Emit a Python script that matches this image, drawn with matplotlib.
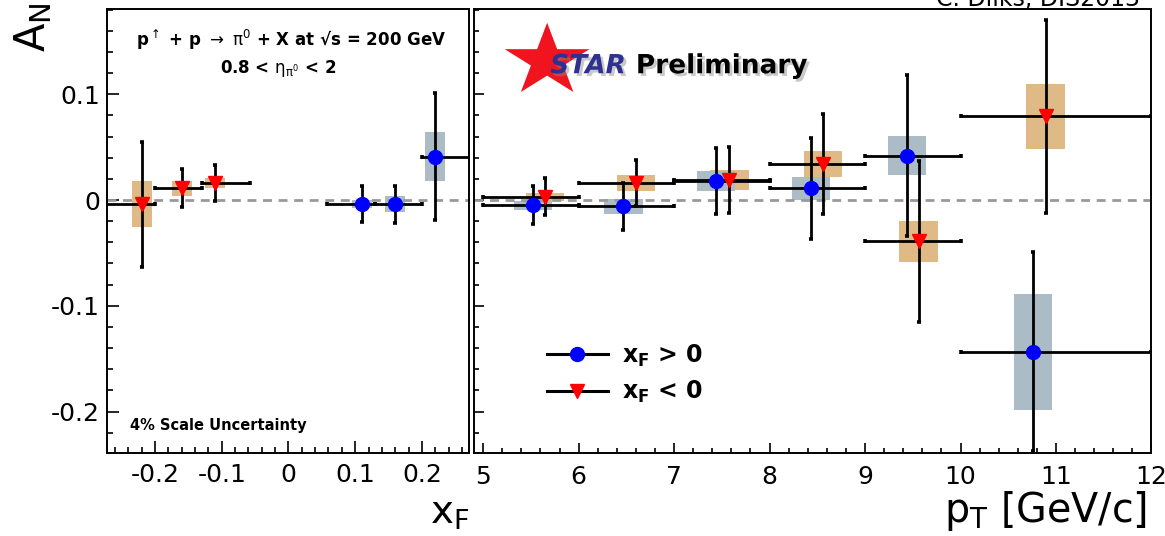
import numpy as np
import matplotlib
matplotlib.use("Agg")
import matplotlib.pyplot as plt
import matplotlib.patheffects as pe
from matplotlib.lines import Line2D
from matplotlib.patches import Polygon
from matplotlib.ticker import MultipleLocator, FuncFormatter

plt.rcParams['font.family'] = ['DejaVu Sans']
plt.rcParams['mathtext.fontset'] = 'dejavusans'
plt.rcParams['axes.unicode_minus'] = False

# A_N vs x_F  (x_F > 0 and x_F < 0)
xf_pos = [0.11, 0.16, 0.22]
xf_pos_lo = [0.058, 0.13, 0.20]
xf_pos_hi = [0.13, 0.20, 0.30]
an_xf_pos = [-0.004, -0.004, 0.041]
stat_xf_pos = [0.017, 0.0175, 0.060]
sys_xf_pos = [0.004, 0.0076, 0.0235]

xf_neg = [-0.22, -0.16, -0.11]
xf_neg_lo = [-0.30, -0.20, -0.13]
xf_neg_hi = [-0.20, -0.13, -0.058]
an_xf_neg = [-0.004, 0.011, 0.016]
stat_xf_neg = [0.059, 0.018, 0.017]
sys_xf_neg = [0.0216, 0.007, 0.0047]

# A_N vs pT
pt_edges = [5, 6, 7, 8, 9, 10, 12]
pt_pos = [5.52, 6.47, 7.44, 8.43, 9.44, 10.76]
an_pt_pos = [-0.005, -0.006, 0.018, 0.011, 0.042, -0.1435]
stat_pt_pos = [0.018, 0.022, 0.031, 0.048, 0.076, 0.094]
sys_pt_pos = [0.004, 0.0074, 0.0093, 0.0112, 0.0184, 0.055]

pt_neg = [5.65, 6.60, 7.58, 8.56, 9.56, 10.89]
an_pt_neg = [0.003, 0.016, 0.019, 0.034, -0.039, 0.079]
stat_pt_neg = [0.0175, 0.022, 0.031, 0.047, 0.076, 0.0915]
sys_pt_neg = [0.0035, 0.0073, 0.0093, 0.0126, 0.0196, 0.031]

col_pos = '#0000ff'
col_neg = '#ff0000'
box_pos = '#abbcc6'
box_neg = '#dfba87'

fig = plt.figure(figsize=(11.65, 5.36), dpi=100)
ax1 = fig.add_axes([0.0918, 0.1543, 0.3110, 0.8283])
ax2 = fig.add_axes([0.4065, 0.1543, 0.5819, 0.8283])


def draw_set(ax, x, lo, hi, an, stat, sys, boxw, marker, mcol, bcol, ms):
    x = np.array(x)
    an = np.array(an)
    sys = np.array(sys)
    ax.bar(x, 2 * sys, bottom=an - sys, width=boxw, color=bcol, zorder=1)
    xerr = [x - np.array(lo), np.array(hi) - x]
    ax.errorbar(x, an, yerr=stat, xerr=xerr, fmt='none', ecolor='k',
                elinewidth=2.0, capsize=1.6, capthick=2.6, zorder=3)
    ax.plot(x, an, marker, color=mcol, ms=ms, zorder=4)


draw_set(ax1, xf_neg, xf_neg_lo, xf_neg_hi, an_xf_neg, stat_xf_neg, sys_xf_neg,
         0.03, 'v', col_neg, box_neg, 10)
draw_set(ax1, xf_pos, xf_pos_lo, xf_pos_hi, an_xf_pos, stat_xf_pos, sys_xf_pos,
         0.03, 'o', col_pos, box_pos, 10)

pt_lo = pt_edges[:-1]
pt_hi = pt_edges[1:]
draw_set(ax2, pt_neg, pt_lo, pt_hi, an_pt_neg, stat_pt_neg, sys_pt_neg,
         0.4, 'v', col_neg, box_neg, 10)
draw_set(ax2, pt_pos, pt_lo, pt_hi, an_pt_pos, stat_pt_pos, sys_pt_pos,
         0.4, 'o', col_pos, box_pos, 10)

fmt = FuncFormatter(lambda v, p: f"{round(v, 3):g}")
for ax in (ax1, ax2):
    ax.axhline(0, color='#999999', lw=2.0, ls=(0, (3.2, 2.4)), zorder=2)
    ax.set_ylim(-0.2395, 0.1803)
    ax.yaxis.set_major_locator(MultipleLocator(0.1))
    ax.yaxis.set_minor_locator(MultipleLocator(0.02))
    ax.tick_params(which='both', direction='in', top=False, right=False,
                   width=1.2, labelsize=18)
    for s in ax.spines.values():
        s.set_linewidth(1.4)

ax1.tick_params(which='major', length=8.5)
ax1.tick_params(which='minor', length=4.5)
ax2.tick_params(which='major', length=7.2)
ax2.tick_params(which='minor', length=3.6)

ax1.set_xlim(-0.272, 0.271)
ax1.xaxis.set_major_locator(MultipleLocator(0.1))
ax1.xaxis.set_minor_locator(MultipleLocator(0.02))
ax1.xaxis.set_major_formatter(fmt)
ax1.yaxis.set_major_formatter(fmt)
ax1.tick_params(axis='x', pad=7)
ax1.tick_params(axis='y', pad=5)

ax2.set_xlim(4.90, 12)
ax2.xaxis.set_major_locator(MultipleLocator(1))
ax2.xaxis.set_minor_locator(MultipleLocator(0.2))
ax2.xaxis.set_major_formatter(fmt)
ax2.tick_params(axis='x', pad=8.3)
ax2.tick_params(axis='y', labelleft=False)

ax1.set_ylabel(r"A$_\mathregular{N}$", fontsize=30, loc='top')
ax1.yaxis.set_label_coords(-0.145, 1.015)
ax1.set_xlabel(r"x$_\mathregular{F}$", fontsize=28, loc='right')
ax1.xaxis.set_label_coords(1.0, -0.092)
ax2.set_xlabel(r"p$_\mathregular{T}$ [GeV/c]", fontsize=28.5, loc='right')
ax2.xaxis.set_label_coords(0.994, -0.08)

ax1.text(0.508, 0.930,
         r"p$^{\uparrow}$ + p $\rightarrow$ $\mathrm{\pi}^0$ + X at √s = 200 GeV",
         transform=ax1.transAxes, ha='center', va='center', fontsize=12,
         fontweight='bold')
ax1.text(0.472, 0.866, r"0.8 < $\mathrm{\eta}_{\mathrm{\pi}^0}$ < 2",
         transform=ax1.transAxes, ha='center', va='center', fontsize=12,
         fontweight='bold')
ax1.text(0.0635, 0.063, "4% Scale Uncertainty", transform=ax1.transAxes,
         ha='left', va='center', fontsize=10.5, fontweight='bold')

# STAR logo
cx, cy, rx, ry = 0.1085, 0.8836, 0.0659, 0.0863
ang = np.pi / 2 + np.arange(10) * np.pi / 5
rad = np.where(np.arange(10) % 2 == 0, 1.0, 0.382)
star = Polygon(np.column_stack([cx + rx * rad * np.cos(ang), cy + ry * rad * np.sin(ang)]),
               closed=True, transform=ax2.transAxes, color='#f0141e', lw=0, zorder=5)
ax2.add_patch(star)
shadow = [pe.withSimplePatchShadow(offset=(2, -2), shadow_rgbFace='#888888', alpha=0.45)]
ax2.text(0.113, 0.856, "STAR", transform=ax2.transAxes, fontsize=19,
         fontweight='bold', fontstyle='italic', color='#2e3192', va='baseline',
         zorder=6, path_effects=shadow)
ax2.text(0.2394, 0.856, "Preliminary", transform=ax2.transAxes, fontsize=19,
         fontweight='bold', color='k', va='baseline', zorder=6, path_effects=shadow)

handles = [Line2D([], [], color='k', lw=2.2, marker='o', mfc=col_pos, mec=col_pos, ms=10),
           Line2D([], [], color='k', lw=2.2, marker='v', mfc=col_neg, mec=col_neg, ms=10)]
ax2.legend(handles, [r"x$_\mathregular{F}$ > 0", r"x$_\mathregular{F}$ < 0"],
           loc='upper left', bbox_to_anchor=(0.108, 0.25), frameon=False,
           prop={'size': 17, 'weight': 'bold'}, handlelength=2.6,
           handletextpad=0.6, labelspacing=0.45, borderpad=0, borderaxespad=0)

fig.text(0.9785, 0.989, "C. Dilks, DIS2013", ha='right', va='baseline', fontsize=17)

fig.savefig("out.png", dpi=100)
